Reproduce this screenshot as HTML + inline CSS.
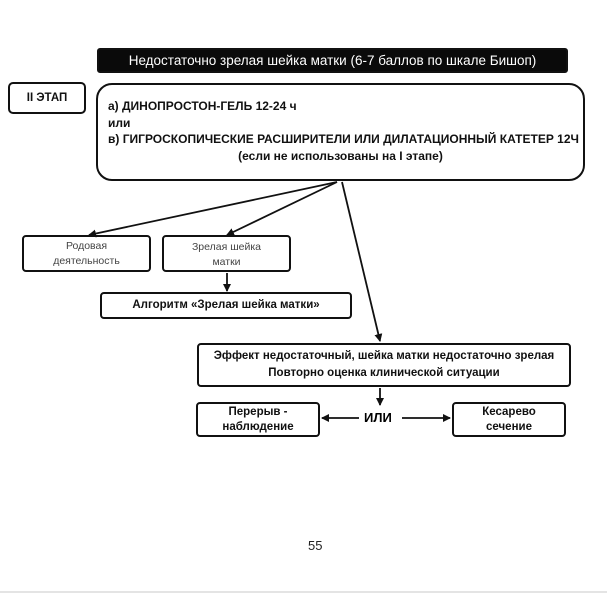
<!DOCTYPE html>
<html><head><meta charset="utf-8"><style>
body{margin:0;width:607px;height:600px;background:#fff;overflow:hidden;position:relative;font-family:"Liberation Sans","DejaVu Sans",sans-serif;}
.b{position:absolute;border:2px solid #111;border-radius:4px;box-sizing:border-box;display:flex;align-items:center;justify-content:center;text-align:center;font-weight:bold;font-size:11.5px;line-height:15px;color:#111;white-space:nowrap;}
</style></head><body>
<div class="b" style="left:97px;top:48px;width:471px;height:25px;background:#0a0a0a;color:#fff;font-size:13.5px;font-weight:normal;border-radius:3px;">Недостаточно зрелая шейка матки (6-7 баллов по шкале Бишоп)</div>
<div class="b" style="left:8px;top:82px;width:78px;height:32px;border-radius:5px;">II ЭТАП</div>
<div class="b" style="left:96px;top:83px;width:489px;height:98px;border-radius:16px;display:block;text-align:left;padding:13px 0 0 10px;font-size:12px;line-height:16.5px;">а) ДИНОПРОСТОН-ГЕЛЬ 12-24 ч<br>или<br>в) ГИГРОСКОПИЧЕСКИЕ РАСШИРИТЕЛИ ИЛИ ДИЛАТАЦИОННЫЙ КАТЕТЕР 12Ч<br><div style="text-align:center;padding-right:10px">(если не использованы на I этапе)</div></div>
<div class="b" style="left:22px;top:235px;width:129px;height:37px;font-weight:normal;color:#444;font-size:10.5px;">Родовая<br>деятельность</div>
<div class="b" style="left:162px;top:235px;width:129px;height:37px;font-weight:normal;color:#444;align-items:flex-start;padding-top:3px;font-size:10.5px;">Зрелая шейка<br>матки</div>
<div class="b" style="left:100px;top:292px;width:252px;height:27px;">Алгоритм «Зрелая шейка матки»</div>
<div class="b" style="left:197px;top:343px;width:374px;height:44px;line-height:17px;">Эффект недостаточный, шейка матки недостаточно зрелая<br>Повторно оценка клинической ситуации</div>
<div class="b" style="left:196px;top:402px;width:124px;height:35px;">Перерыв -<br>наблюдение</div>
<div class="b" style="left:452px;top:402px;width:114px;height:35px;">Кесарево<br>сечение</div>
<div style="position:absolute;left:364px;top:410px;font-weight:bold;font-size:13px;">ИЛИ</div>
<div style="position:absolute;left:308px;top:538px;font-size:13px;color:#222;">55</div>
<svg width="607" height="600" style="position:absolute;left:0;top:0">
<defs><marker id="a" markerWidth="8" markerHeight="8" refX="7" refY="4" orient="auto" markerUnits="userSpaceOnUse"><path d="M0,0 L8,4 L0,8 z" fill="#111"/></marker></defs>
<g stroke="#111" stroke-width="1.8" fill="none">
<line x1="337" y1="182" x2="89" y2="235" marker-end="url(#a)"/>
<line x1="337" y1="182" x2="227" y2="235" marker-end="url(#a)"/>
<line x1="342" y1="182" x2="380" y2="341" marker-end="url(#a)"/>
<line x1="227" y1="273" x2="227" y2="291" marker-end="url(#a)"/>
<line x1="380" y1="388" x2="380" y2="405" marker-end="url(#a)"/>
<line x1="359" y1="418" x2="322" y2="418" marker-end="url(#a)"/>
<line x1="402" y1="418" x2="450" y2="418" marker-end="url(#a)"/>
</g>
<line x1="0" y1="592" x2="607" y2="592" stroke="#e4e4e4" stroke-width="2"/>
</svg>
</body></html>
